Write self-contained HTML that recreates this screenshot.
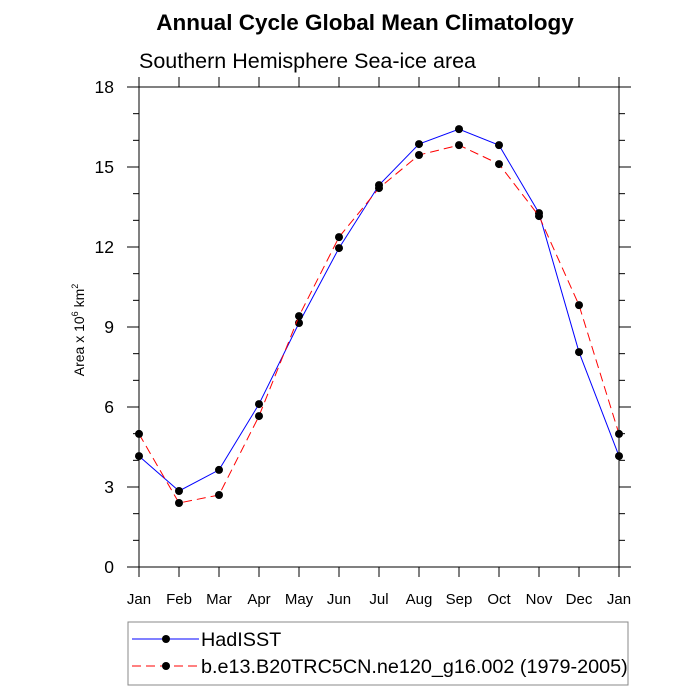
<!DOCTYPE html>
<html><head><meta charset="utf-8"><style>body{margin:0;background:#fff}svg{display:block;font-family:"Liberation Sans",sans-serif}</style></head>
<body>
<svg id="chart" width="700" height="700">
<text x="365" y="30" font-size="22.5" font-weight="bold" text-anchor="middle">Annual Cycle Global Mean Climatology</text>
<text x="139" y="68" font-size="21.5">Southern Hemisphere Sea-ice area</text>
<text transform="translate(84,330) rotate(-90)" font-size="14" text-anchor="middle">Area x 10<tspan font-size="9" dy="-6">6</tspan><tspan dy="6"> km</tspan><tspan font-size="9" dy="-6">2</tspan></text>
<rect x="139" y="87" width="480" height="480" fill="none" stroke="#000" stroke-width="1"/>
<g id="axes"></g><g id="series"></g>
<rect x="128" y="622" width="500" height="63" fill="none" stroke="#888"/>
<g>
<line x1="132" y1="639" x2="199" y2="639" stroke="#00f"/><circle cx="166" cy="639" r="4" fill="#000"/>
<text x="201" y="646" font-size="19.8">HadISST</text></g>
<g>
<line x1="132" y1="666" x2="199" y2="666" stroke="#f00" stroke-dasharray="9,5"/><circle cx="166" cy="666" r="4" fill="#000"/>
<text x="201" y="673" font-size="19.8">b.e13.B20TRC5CN.ne120_g16.002 (1979-2005)</text></g>
</svg>
<script>
const months=["Jan","Feb","Mar","Apr","May","Jun","Jul","Aug","Sep","Oct","Nov","Dec","Jan"];
const hadisst=[4.16,2.85,3.64,6.11,9.15,11.96,14.32,15.86,16.42,15.82,13.27,8.06,4.16];
const model=[4.99,2.4,2.7,5.66,9.41,12.37,14.21,15.45,15.82,15.11,13.16,9.82,4.99];
const yTicks=[0,3,6,9,12,15,18];
const NS="http://www.w3.org/2000/svg";
const X0=139,X1=619,Y0=567,Y1=87,YMAX=18;
const xs=i=>X0+i*(X1-X0)/(months.length-1);
const ys=v=>Y0-v*(Y0-Y1)/YMAX;
function mk(t,a,p){const e=document.createElementNS(NS,t);for(const k in a)e.setAttribute(k,a[k]);p.appendChild(e);return e;}
const ax=document.getElementById('axes');
for(let v=0;v<=YMAX;v++){
 const major=yTicks.includes(v),L=major?12:6;
 const t1=mk('line',{x1:X0-L,x2:X0,y1:ys(v),y2:ys(v),stroke:'#000'},ax);
 
 
 const t2=mk('line',{x1:X1,x2:X1+L,y1:ys(v),y2:ys(v),stroke:'#000'},ax);
 
 
}
yTicks.forEach(v=>{const t=mk('text',{x:X0-25,y:ys(v)+6,'font-size':17.5,'text-anchor':'end'},ax);t.textContent=v;
 
 });
months.forEach((m,i)=>{
 const l=mk('line',{x1:xs(i),x2:xs(i),y1:Y0,y2:Y0+10,stroke:'#000'},ax);
 
 
 const l2=mk('line',{x1:xs(i),x2:xs(i),y1:Y1,y2:Y1-10,stroke:'#000'},ax);
 
 
 const t=mk('text',{x:xs(i),y:604,'font-size':15,'text-anchor':'middle'},ax);t.textContent=m;
 
 
});
const sg=document.getElementById('series');
function draw(data,color,dash,name){
 const pl=mk('polyline',{points:data.map((v,i)=>xs(i)+','+ys(v)).join(' '),fill:'none',stroke:color,'stroke-dasharray':dash},sg);
 
 
 data.forEach((v,i)=>{const c=mk('circle',{cx:xs(i),cy:ys(v),r:4,fill:'#000'},sg);
  
  });
}
draw(hadisst,'#00f','none','hadisst');
draw(model,'#f00','9,5','model');
</script>
</body></html>
